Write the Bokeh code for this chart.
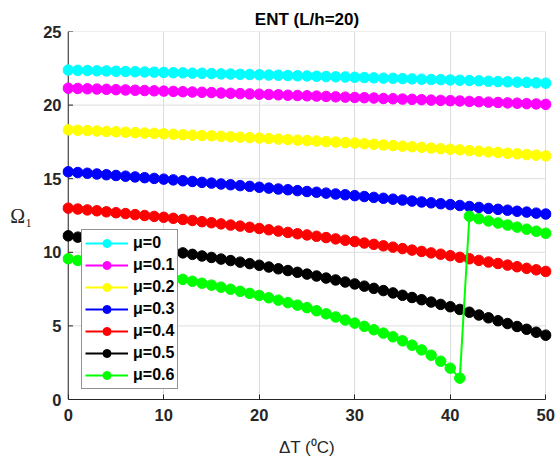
from bokeh.plotting import figure
from bokeh.models import Range1d, FixedTicker, Legend, LegendItem
from bokeh.embed import file_html
from bokeh.resources import INLINE

# Temperature rise (deg C)
delta_t = list(range(51))

# First natural frequency for each mu
omega_mu0 = [22.38, 22.36, 22.35, 22.33, 22.32, 22.30, 22.28, 22.27, 22.25, 22.24,
             22.22, 22.20, 22.19, 22.17, 22.16, 22.14, 22.12, 22.11, 22.09, 22.08,
             22.06, 22.04, 22.03, 22.01, 21.99, 21.98, 21.96, 21.94, 21.92, 21.91,
             21.89, 21.87, 21.85, 21.83, 21.82, 21.80, 21.78, 21.76, 21.74, 21.73,
             21.71, 21.69, 21.67, 21.65, 21.62, 21.60, 21.58, 21.56, 21.54, 21.51,
             21.49]
omega_mu01 = [21.15, 21.13, 21.11, 21.09, 21.07, 21.05, 21.03, 21.01, 20.99, 20.97,
              20.95, 20.93, 20.91, 20.89, 20.87, 20.85, 20.82, 20.80, 20.78, 20.76,
              20.74, 20.72, 20.70, 20.67, 20.65, 20.63, 20.61, 20.59, 20.56, 20.54,
              20.52, 20.50, 20.48, 20.45, 20.43, 20.41, 20.39, 20.37, 20.34, 20.32,
              20.30, 20.28, 20.25, 20.23, 20.20, 20.18, 20.15, 20.13, 20.10, 20.08,
              20.05]
omega_mu02 = [18.32, 18.29, 18.27, 18.24, 18.21, 18.19, 18.16, 18.13, 18.10, 18.08,
              18.05, 18.02, 17.99, 17.96, 17.93, 17.91, 17.88, 17.85, 17.82, 17.79,
              17.76, 17.73, 17.69, 17.66, 17.62, 17.59, 17.56, 17.52, 17.49, 17.45,
              17.42, 17.38, 17.34, 17.29, 17.25, 17.21, 17.17, 17.13, 17.08, 17.04,
              17.00, 16.96, 16.91, 16.87, 16.82, 16.78, 16.73, 16.69, 16.64, 16.60,
              16.55]
omega_mu03 = [15.47, 15.42, 15.37, 15.32, 15.27, 15.22, 15.17, 15.12, 15.07, 15.02,
              14.97, 14.92, 14.86, 14.81, 14.75, 14.70, 14.64, 14.59, 14.53, 14.48,
              14.42, 14.36, 14.30, 14.25, 14.19, 14.13, 14.08, 14.02, 13.96, 13.91,
              13.85, 13.79, 13.73, 13.67, 13.61, 13.55, 13.48, 13.42, 13.36, 13.30,
              13.24, 13.18, 13.11, 13.05, 12.98, 12.92, 12.86, 12.79, 12.73, 12.66,
              12.60]
omega_mu04 = [13.00, 12.94, 12.88, 12.82, 12.75, 12.69, 12.63, 12.56, 12.50, 12.44,
              12.38, 12.31, 12.23, 12.16, 12.08, 12.01, 11.93, 11.85, 11.78, 11.70,
              11.62, 11.53, 11.44, 11.35, 11.26, 11.18, 11.09, 11.00, 10.91, 10.82,
              10.73, 10.63, 10.54, 10.44, 10.35, 10.25, 10.15, 10.06, 9.96, 9.87,
              9.77, 9.66, 9.56, 9.45, 9.34, 9.24, 9.13, 9.02, 8.91, 8.81,
              8.70]
omega_mu05 = [11.12, 11.03, 10.93, 10.84, 10.74, 10.65, 10.55, 10.46, 10.36, 10.27,
              10.17, 10.07, 9.96, 9.86, 9.75, 9.65, 9.54, 9.44, 9.33, 9.23,
              9.12, 9.00, 8.88, 8.76, 8.64, 8.52, 8.39, 8.25, 8.12, 7.98,
              7.85, 7.70, 7.55, 7.40, 7.24, 7.08, 6.93, 6.78, 6.62, 6.46,
              6.30, 6.12, 5.93, 5.74, 5.55, 5.35, 5.16, 4.96, 4.77, 4.57,
              4.37]
omega_mu06 = [9.56, 9.45, 9.34, 9.23, 9.12, 9.00, 8.89, 8.77, 8.65, 8.53,
              8.41, 8.29, 8.16, 8.03, 7.90, 7.77, 7.63, 7.49, 7.35, 7.21,
              7.07, 6.91, 6.75, 6.58, 6.41, 6.24, 6.03, 5.82, 5.61, 5.40,
              5.19, 4.97, 4.74, 4.51, 4.26, 3.99, 3.69, 3.37, 3.01, 2.60,
              2.13, 1.45, 12.45, 12.28, 12.13, 11.99, 11.85, 11.71, 11.57, 11.43,
              11.29]

series_labels = ["μ=0", "μ=0.1", "μ=0.2", "μ=0.3", "μ=0.4", "μ=0.5", "μ=0.6"]
series_colors = ["#00ffff", "#ff00ff", "#ffff00", "#0000ff", "#ff0000", "#000000", "#00ff00"]
series_values = [omega_mu0, omega_mu01, omega_mu02, omega_mu03, omega_mu04, omega_mu05, omega_mu06]

x_ticks = [0, 10, 20, 30, 40, 50]
y_ticks = [0, 5, 10, 15, 20, 25]

AXIS_GRAY = "#262626"
GRID_GRAY = "#dedede"
FONT = "Liberation Sans"
TICK_LEN = 0.5  # inward tick length along x, in data units (~5 px)

p = figure(
    width=560, height=466,
    frame_width=489, frame_height=368,
    min_border_left=62, min_border_right=9, min_border_top=31, min_border_bottom=67,
    x_range=Range1d(-0.6, 50.6), y_range=Range1d(0, 25),
    title="ENT (L/h=20)",
    output_backend="svg", toolbar_location=None,
)
p.outline_line_color = None
p.background_fill_color = "white"
p.border_fill_color = "white"

# title
p.title.align = "center"
p.title.text_font = FONT
p.title.text_font_size = "17px"
p.title.text_font_style = "bold"
p.title.text_color = "#000000"
p.title.standoff = 5

# grid: vertical lines from the grid, horizontal lines limited to the x extent
p.xgrid.ticker = FixedTicker(ticks=x_ticks)
p.xgrid.grid_line_color = GRID_GRAY
p.ygrid.visible = False
n_y = len(y_ticks)
p.segment(x0=[x_ticks[0]] * n_y, x1=[x_ticks[-1]] * n_y,
          y0=y_ticks, y1=y_ticks, line_color=GRID_GRAY, line_width=1)

# axes styling
for ax in (p.xaxis[0], p.yaxis[0]):
    ax.major_label_text_font = FONT
    ax.major_label_text_font_size = "16.5px"
    ax.major_label_text_font_style = "bold"
    ax.major_label_text_color = AXIS_GRAY
    ax.axis_label_text_color = AXIS_GRAY
    ax.minor_tick_in = 0
    ax.minor_tick_out = 0

p.xaxis.ticker = FixedTicker(ticks=x_ticks)
p.xaxis.bounds = (x_ticks[0], x_ticks[-1])
p.xaxis.axis_line_color = AXIS_GRAY
p.xaxis.major_tick_line_color = AXIS_GRAY
p.xaxis.major_tick_in = 5
p.xaxis.major_tick_out = 0
p.xaxis.major_label_standoff = 9
p.xaxis.axis_label = "ΔT (⁰C)"
p.xaxis.axis_label_text_font = FONT
p.xaxis.axis_label_text_font_size = "17px"
p.xaxis.axis_label_text_font_style = "normal"
p.xaxis.axis_label_standoff = 14

# y axis: labels from the axis, line and inward ticks drawn at x = 0
p.yaxis.ticker = FixedTicker(ticks=y_ticks)
p.yaxis.axis_line_color = None
p.yaxis.major_tick_line_color = None
p.yaxis.major_tick_in = 0
p.yaxis.major_tick_out = 0
p.yaxis.major_label_standoff = 1
p.yaxis.axis_label = "Ω₁"
p.yaxis.axis_label_orientation = "horizontal"
p.yaxis.axis_label_text_font = "Liberation Serif"
p.yaxis.axis_label_text_font_size = "20px"
p.yaxis.axis_label_text_font_style = "normal"
p.yaxis.axis_label_standoff = 8

p.segment(x0=[x_ticks[0]], x1=[x_ticks[0]], y0=[y_ticks[0]], y1=[y_ticks[-1]],
          line_color=AXIS_GRAY, line_width=1)
p.segment(x0=[x_ticks[0]] * n_y, x1=[x_ticks[0] + TICK_LEN] * n_y,
          y0=y_ticks, y1=y_ticks, line_color=AXIS_GRAY, line_width=1)

# curves
items = []
for label, color, values in zip(series_labels, series_colors, series_values):
    r_line = p.line(delta_t, values, line_color=color, line_width=2)
    r_dots = p.scatter(delta_t, values, marker="circle", size=10.5,
                       fill_color=color, line_color=color)
    items.append(LegendItem(label=label, renderers=[r_line, r_dots]))

legend = Legend(
    items=items,
    location=(19, 10),
    orientation="vertical",
    glyph_width=43, glyph_height=20,
    label_height=20, label_standoff=5,
    spacing=2, padding=3, margin=0,
    label_text_font=FONT, label_text_font_size="16px", label_text_font_style="bold",
    label_text_color="#000000",
    border_line_color=AXIS_GRAY, border_line_width=1,
    background_fill_color="white", background_fill_alpha=1.0,
)
p.add_layout(legend)

open("out.html", "w").write(file_html(p, INLINE))
